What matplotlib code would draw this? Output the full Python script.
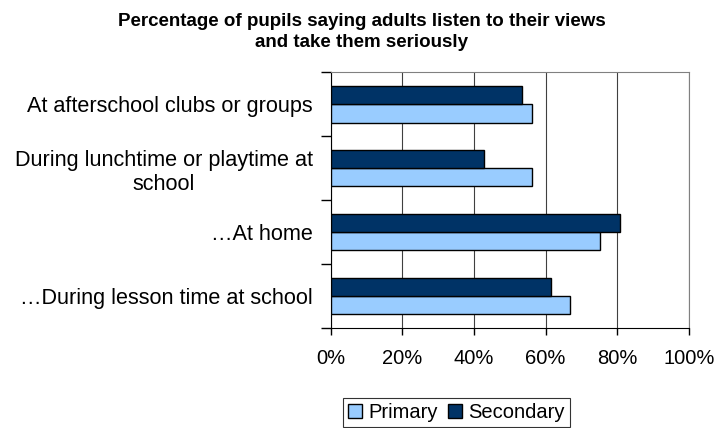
import matplotlib.pyplot as plt
import numpy as np

plt.rcParams['font.family'] = ['Liberation Sans', 'DejaVu Sans']

categories = ['\u2026During lesson time at school', '\u2026At home',
              'During lunchtime or playtime at\nschool', 'At afterschool clubs or groups']
primary = [66.9, 75.2, 56.2, 56.2]
secondary = [61.4, 80.9, 42.7, 53.4]
xticks = [0, 20, 40, 60, 80, 100]

fig = plt.figure(figsize=(7.16, 4.28), dpi=100)
ax = fig.add_axes([0.462, 0.2336, 0.5, 0.5974])

y = np.arange(len(categories))
h = 1 / 3.5
ax.barh(y - h / 2, primary, height=h, color='#99CCFF', edgecolor='black', linewidth=1, label='Primary', zorder=3)
ax.barh(y + h / 2, secondary, height=h, color='#003366', edgecolor='black', linewidth=1, label='Secondary', zorder=3)

ax.set_xlim(0, 100)
ax.set_ylim(-0.5, len(categories) - 0.5)
ax.set_xticks(xticks)
ax.set_xticklabels([f'{v}%' for v in xticks], fontsize=14.5)
ax.xaxis.grid(True, color='#404040', linewidth=0.8, zorder=0)

# category labels sit between boundary ticks
ax.set_yticks(np.arange(-0.5, len(categories), 1))
ax.set_yticklabels([])
ax.set_yticks(y, minor=True)
ax.set_yticklabels(categories, minor=True, fontsize=15.6, multialignment='center')
ax.tick_params(axis='y', which='minor', length=0, pad=13)
ax.tick_params(axis='y', which='major', length=7, width=1)
ax.tick_params(axis='x', length=5, width=1, pad=10)

for s in ['top', 'right']:
    ax.spines[s].set_color('#808080')
for s in ['left', 'bottom']:
    ax.spines[s].set_color('black')

fig.text(0.505, 0.925, 'Percentage of pupils saying adults listen to their views\nand take them seriously',
         ha='center', va='center', fontsize=13.5, fontweight='bold', linespacing=1.35)

leg = fig.legend(loc='center', bbox_to_anchor=(0.6376, 0.037), ncol=2, fontsize=14.5,
                 frameon=True, fancybox=False, edgecolor='black', handlelength=0.7,
                 handleheight=0.7, handletextpad=0.3, columnspacing=0.5, borderpad=0.25)
leg.get_frame().set_linewidth(0.8)

fig.savefig('out.png', dpi=100)
